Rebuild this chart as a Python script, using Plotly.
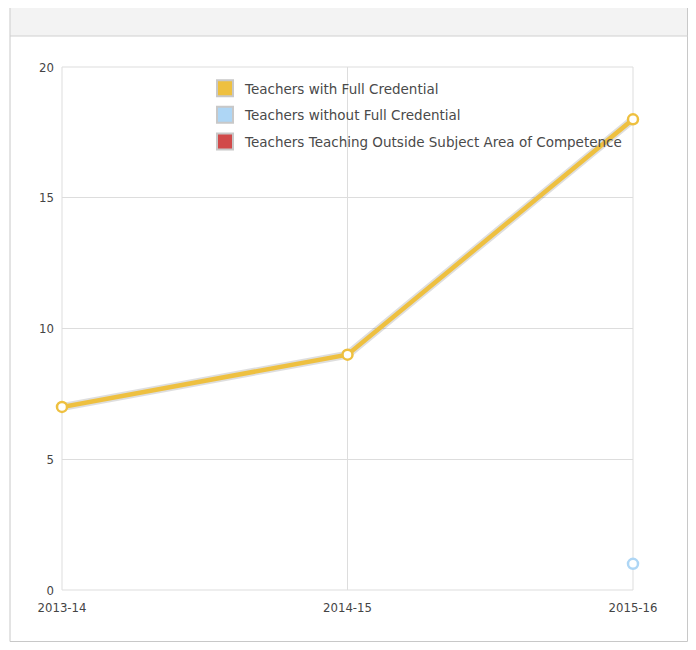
import plotly.graph_objects as go

categories = ["2013-14", "2014-15", "2015-16"]
full_credential = [7, 9, 18]
without_full = [None, None, 1]
outside_subject = [None, None, None]
series_names = ["Teachers with Full Credential", "Teachers without Full Credential",
                "Teachers Teaching Outside Subject Area of Competence"]
series_colors = ["#EEC040", "#AED6F5", "#D14A4A"]
y_ticks = [0, 5, 10, 15, 20]

OFF = 8  # page body margin
W, H = 696 - 2 * OFF, 650 - 2 * OFF
SL, SR, ST, SB = 62, 633, 67, 590
L, R, T, B = SL - OFF, SR - OFF, ST - OFF, SB - OFF

def px(x):
    return (x - OFF - L) / (R - L)

def py(y):
    return (B - (y - OFF)) / (B - T)

fig = go.Figure()

fig.add_trace(go.Scatter(x=categories, y=full_credential, mode="lines",
                         line=dict(color="rgba(0,0,0,0.13)", width=8),
                         showlegend=False, hoverinfo="skip", cliponaxis=False))
for name, vals, col in zip(series_names, [full_credential, without_full, outside_subject], series_colors):
    fig.add_trace(go.Scatter(x=categories, y=vals, mode="lines+markers",
                             line=dict(color=col, width=4.5),
                             marker=dict(size=10, color="white", line=dict(color=col, width=2.5)),
                             showlegend=False, name=name, cliponaxis=False))

for i, (n, c) in enumerate(zip(series_names, series_colors)):
    fig.add_trace(go.Scatter(x=[None], y=[None], mode="markers", name=n,
                             legendgroup=f"g{i}",
                             marker=dict(symbol="square", size=18, color=c,
                                         line=dict(color="#C8C8C8", width=2))))

shapes = [
    dict(type="rect", xref="paper", yref="paper", x0=px(10.5), x1=px(687.5), y0=py(36), y1=py(2.5),
         line=dict(width=0), fillcolor="#F3F3F3", layer="below"),
    dict(type="rect", xref="paper", yref="paper", x0=px(10), x1=px(687.5), y0=py(641.5), y1=py(2),
         line=dict(color="#C8C8C8", width=1), fillcolor="rgba(0,0,0,0)", layer="below"),
    dict(type="line", xref="paper", yref="paper", x0=px(10), x1=px(688), y0=py(36), y1=py(36),
         line=dict(color="#D0D0D0", width=1)),
    dict(type="rect", xref="paper", yref="paper", x0=0, x1=1, y0=0, y1=1,
         line=dict(color="#DDDDDD", width=1), fillcolor="rgba(0,0,0,0)", layer="below"),
]

fig.update_layout(
    width=W, height=H,
    margin=dict(l=L, r=W - R, t=T, b=H - B),
    paper_bgcolor="white", plot_bgcolor="white",
    font=dict(family="DejaVu Sans", size=12, color="#444444"),
    shapes=shapes,
    showlegend=True,
    legend=dict(x=px(205), y=py(73), xanchor="left", yanchor="top",
                bgcolor="rgba(255,255,255,0)", tracegroupgap=6,
                font=dict(family="DejaVu Sans", size=13.5, color="#4a4a4a"),
                itemwidth=30),
    xaxis=dict(type="category", categoryorder="array", categoryarray=categories,
               range=[0, 2], showgrid=True, gridcolor="#DDDDDD", gridwidth=1,
               zeroline=False, showline=False, ticks="", ticklabelstandoff=8,
               tickfont=dict(family="DejaVu Sans Condensed", size=13, color="#444444")),
    yaxis=dict(range=[0, 20], tickvals=y_ticks, showgrid=True, gridcolor="#DDDDDD",
               zeroline=False, showline=False, ticks="", ticklabelstandoff=7,
               tickfont=dict(family="DejaVu Sans Condensed", size=13, color="#444444")),
)
fig.update_xaxes(automargin=False)
fig.update_yaxes(automargin=False)

fig.write_html("out.html")
